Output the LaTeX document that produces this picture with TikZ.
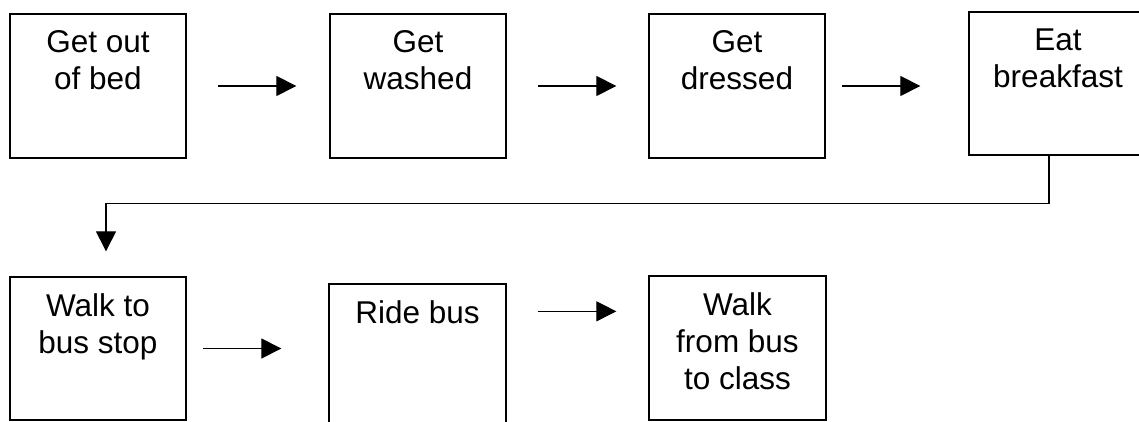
\documentclass[tikz,border=0pt]{standalone}
\usepackage{fontspec}
\setmainfont{Liberation Sans}
\usetikzlibrary{arrows.meta}
\begin{document}
\begin{tikzpicture}[x=1pt,y=-1pt,
  box/.style={draw, line width=1.3pt, rectangle, inner sep=0pt, minimum width=176pt, minimum height=144pt},
  lbl/.style={anchor=north, inner sep=0pt, align=center, font=\fontsize{31.5}{37}\selectfont},
  arr/.style={line width=1.1pt, -{Triangle[length=20pt,width=20pt]}}]
\useasboundingbox (0,0) rectangle (1139,422);
\clip (0,0) rectangle (1139,422);
% boxes
\node[box] (b1) at (98,86) {};
\node[box] (b2) at (418,86) {};
\node[box] (b3) at (737,86) {};
\node[box, minimum width=178pt, minimum height=143pt] (b4) at (1058,83.5) {};
\node[box, minimum height=143pt] (b5) at (98,348.5) {};
\node[box, minimum width=177pt] (b6) at (417.5,356) {};
\node[box, minimum width=177pt] (b7) at (737.5,348) {};
% labels
\node[lbl] (t1) at ([yshift=-17pt]b1.north) {Get out\\of bed};
\node[lbl] (t2) at ([yshift=-17pt]b2.north) {Get\\washed};
\node[lbl] (t3) at ([yshift=-17pt]b3.north) {Get\\dressed};
\node[lbl] (t4) at ([yshift=-17pt]b4.north) {Eat\\breakfast};
\node[lbl] (t5) at ([yshift=-17pt]b5.north) {Walk to\\bus stop};
\node[lbl] (t6) at ([yshift=-17pt]b6.north) {Ride bus};
\node[lbl] (t7) at ([yshift=-17pt]b7.north) {Walk\\from bus\\to class};
% arrows
\draw[arr, shorten <=31pt, shorten >=33pt] (b1.east) -- (b2.west);
\draw[arr, shorten <=31pt, shorten >=32pt] (b2.east) -- (b3.west);
\draw[arr, shorten <=16pt, shorten >=48pt] (b3.east) -- (b3.east -| b4.west);
\draw[arr, shorten >=25pt] ([xshift=-9pt]b4.south) -- ++(0,48) -| ([xshift=8pt]b5.north);
\draw[arr, shorten <=16pt, shorten >=47pt] (b5.east) -- (b5.east -| b6.west);
\draw[arr, shorten <=31pt, shorten >=32pt] ([yshift=-28pt]b6.north east) -- ([yshift=-36pt]b7.north west);
\end{tikzpicture}
\end{document}
